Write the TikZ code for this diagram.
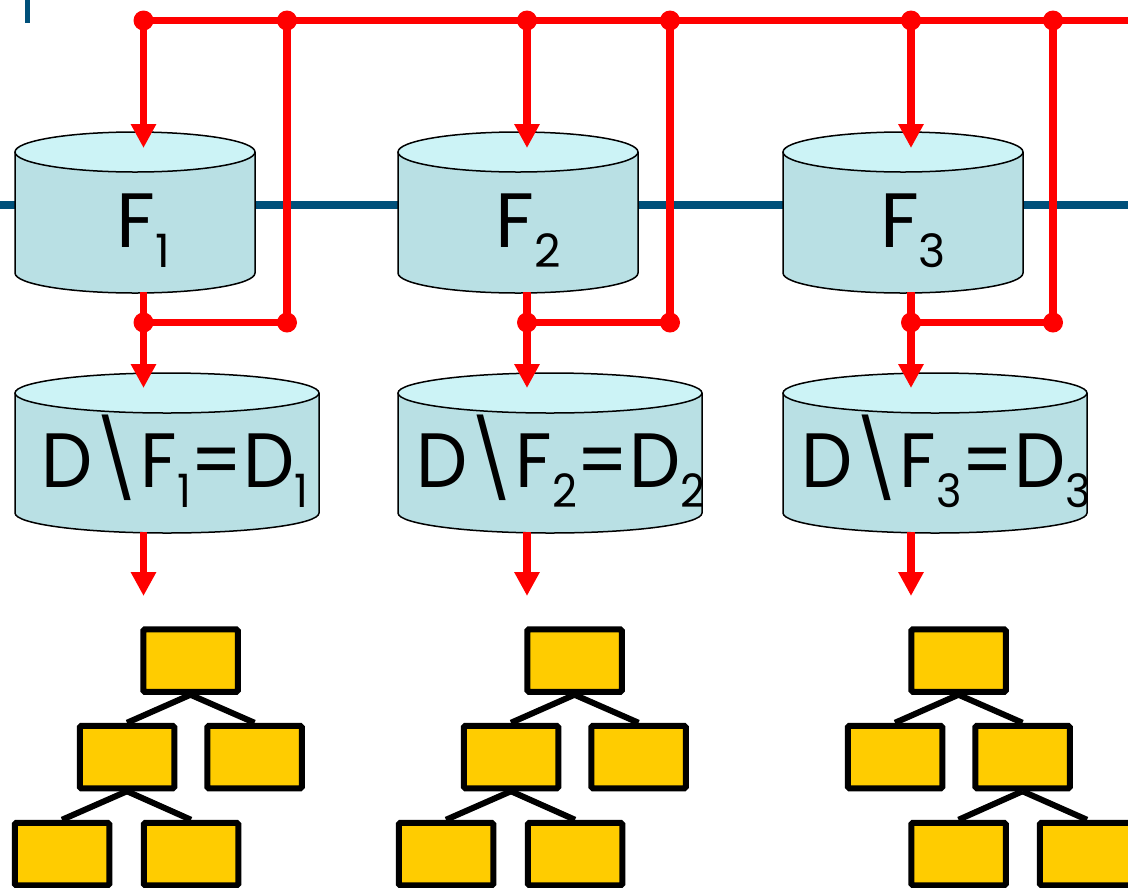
\documentclass[tikz,border=0pt]{standalone}
\usepackage{fontspec}
\setmainfont{Poppins}
\usetikzlibrary{arrows.meta}
\definecolor{cylbody}{RGB}{185,224,228}
\definecolor{cyltop}{RGB}{204,243,246}
\definecolor{lineblue}{RGB}{0,80,122}
\definecolor{boxfill}{RGB}{255,204,0}
\definecolor{redl}{RGB}{255,0,0}
\newcommand{\subx}[1]{\raisebox{-20pt}{\fontsize{46pt}{46pt}\selectfont #1}}
\newcommand{\cylshape}[5]{% cx, half width, ytop, ybot, name
  \fill[cylbody] (#1-#2,#3) -- (#1-#2,#4) arc[start angle=180,end angle=360,x radius=#2pt,y radius=20pt] -- (#1+#2,#3) -- cycle;
  \draw[cylborder] (#1-#2,#3) -- (#1-#2,#4) arc[start angle=180,end angle=360,x radius=#2pt,y radius=20pt] -- (#1+#2,#3);
  \draw[cylborder,fill=cyltop] (#1,#3) ellipse[x radius=#2pt,y radius=20pt];
  \node[cylframe,minimum width={2*#2pt},minimum height={#4-#3+40}] (#5) at (#1,{(#3+#4)/2}) {};
}
\tikzset{
  cylborder/.style={draw=black,line width=1.5pt},
  cylframe/.style={draw=none,inner sep=0pt,rectangle},
  redline/.style={draw=redl,line width=7.5pt},
  redarrow/.style={draw=redl,line width=7.5pt,-{Triangle[width=24pt,length=24pt]}},
  reddot/.style={fill=redl},
  blueln/.style={draw=lineblue,line width=7.5pt},
  tbox/.style={draw=black,line width=6pt,fill=boxfill,minimum width=94.5pt,minimum height=62.5pt,inner sep=0pt,rounded corners=1.5pt},
  tedge/.style={draw=black,line width=6pt},
  ftxt/.style={inner sep=0pt,anchor=base,font=\fontsize{77pt}{77pt}\selectfont},
}
\begin{document}
\begin{tikzpicture}[x=1pt,y=-1pt]
\useasboundingbox (0,0) rectangle (1128,887);
% blue lines
\coordinate (bl0) at (-5,205);
\coordinate (bl1) at (1135,205);
\draw[blueln] (bl0) -- (bl1);
\coordinate (tk0) at (27,-3);
\coordinate (tk1) at (27,22.5);
\draw[draw=lineblue,line width=5pt] (tk0) -- (tk1);
% cylinders
\cylshape{135}{120}{152}{273}{F1}
\cylshape{518}{120}{152}{273}{F2}
\cylshape{903}{120}{152}{273}{F3}
\cylshape{167}{152}{393}{513}{D1}
\cylshape{550}{152}{393}{513}{D2}
\cylshape{935}{152}{393}{513}{D3}
% texts
\node[ftxt] (F1t) at (143,247) {F\subx{1}};
\node[ftxt] (F2t) at (528,247) {F\subx{2}};
\node[ftxt] (F3t) at (913,247) {F\subx{3}};
\node[ftxt] (D1t) at (175,487) {\scalebox{0.94}[1]{D\textbackslash F\subx{1}=D\subx{1}}};
\node[ftxt] (D2t) at (561,487) {\scalebox{0.94}[1]{D\textbackslash F\subx{2}=D\subx{2}}};
\node[ftxt] (D3t) at (946,487) {\scalebox{0.94}[1]{D\textbackslash F\subx{3}=D\subx{3}}};
% red network
\coordinate (topend) at (1140,20.5);
\foreach \i/\ax/\rx in {1/143.5/287, 2/527/670, 3/911/1053}{
  \coordinate (tA\i) at (\ax,20.5);
  \coordinate (tR\i) at (\rx,20.5);
  \coordinate (Fin\i) at (\ax,148);
  \coordinate (Fout\i) at (\ax,292);
  \coordinate (jA\i) at (\ax,322.5);
  \coordinate (jR\i) at (\rx,322.5);
  \coordinate (Din\i) at (\ax,388);
  \coordinate (Dout\i) at (\ax,532);
  \coordinate (Ddn\i) at (\ax,596);
}
\draw[redline] (tA1) -- (topend);
\foreach \i in {1,2,3}{
  \draw[redarrow] (tA\i) -- (Fin\i);
  \draw[redarrow] (Fout\i) -- (Din\i);
  \draw[redline] (tR\i) -- (jR\i) -- (jA\i);
  \draw[redarrow] (Dout\i) -- (Ddn\i);
  \fill[reddot] (tA\i) circle[radius=10pt];
  \fill[reddot] (tR\i) circle[radius=10pt];
  \fill[reddot] (jA\i) circle[radius=10pt];
  \fill[reddot] (jR\i) circle[radius=10pt];
}
% trees
\foreach \i/\o in {1/0, 2/384}{
  \node[tbox] (T\i) at (190.5+\o,660.5) {};
  \node[tbox] (ML\i) at (127+\o,757) {};
  \node[tbox] (MR\i) at (254.5+\o,757) {};
  \node[tbox] (BL\i) at (62+\o,854) {};
  \node[tbox] (BR\i) at (191+\o,854) {};
  \draw[tedge] (T\i.south) -- (ML\i.north);
  \draw[tedge] (T\i.south) -- (MR\i.north);
  \draw[tedge] (ML\i.south) -- (BL\i.north);
  \draw[tedge] (ML\i.south) -- (BR\i.north);
}
\node[tbox] (T3) at (958.5,660.5) {};
\node[tbox] (ML3) at (895,757) {};
\node[tbox] (MR3) at (1022.5,757) {};
\node[tbox] (BL3) at (958.5,854) {};
\node[tbox] (BR3) at (1087,854) {};
\draw[tedge] (T3.south) -- (ML3.north);
\draw[tedge] (T3.south) -- (MR3.north);
\draw[tedge] (MR3.south) -- (BL3.north);
\draw[tedge] (MR3.south) -- (BR3.north);
\end{tikzpicture}
\end{document}
